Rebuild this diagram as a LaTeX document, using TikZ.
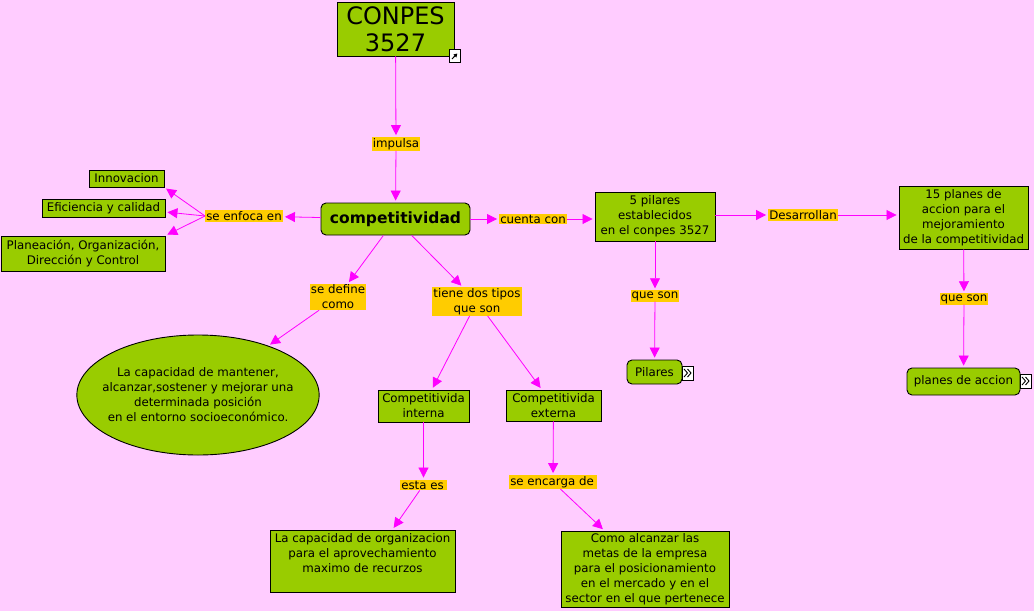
\documentclass[tikz,border=0pt]{standalone}
\usepackage{fontspec}
\setmainfont{DejaVu Sans}
\usetikzlibrary{arrows.meta,shapes.geometric,calc}
\definecolor{bgpink}{RGB}{255,204,255}
\definecolor{cgreen}{RGB}{153,204,0}
\definecolor{lorange}{RGB}{255,204,0}
\definecolor{amag}{RGB}{255,0,255}
\tikzset{
  concept/.style={draw=black, line width=0.9pt, fill=cgreen, align=center, inner sep=1pt, font=\fontsize{11.8}{15}\selectfont},
  rconcept/.style={concept, rounded corners=5pt},
  linkph/.style={fill=lorange, align=center, inner sep=1pt, font=\fontsize{11.8}{15}\selectfont},
  conn/.style={draw=amag, line width=0.8pt, -{Triangle[length=10pt,width=10pt]}, shorten >=2pt},
  iconbox/.style={draw=black, fill=white, line width=0.7pt, minimum width=11pt, minimum height=13pt, inner sep=0pt}
}
\begin{document}
\begin{tikzpicture}[x=1pt,y=-1pt]
\fill[bgpink] (0,0) rectangle (1034,611);
\useasboundingbox (0,0) rectangle (1034,611);

% concepts
\node[concept, minimum width=117pt, minimum height=54pt, font=\fontsize{24}{27}\selectfont] (conpes) at (395.5,29) {CONPES\\3527};
\node[rconcept, minimum width=149pt, minimum height=32pt, font=\bfseries\fontsize{15.5}{18}\selectfont] (comp) at (395.5,219) {competitividad};
\node[concept, minimum width=75pt, minimum height=17pt] (innov) at (126.5,178.5) {Innovacion};
\node[concept, minimum width=123pt, minimum height=18pt] (efic) at (103.5,208) {Eficiencia y calidad};
\node[concept, minimum width=164pt, minimum height=35pt] (plan) at (83,253.5) {Planeación, Organización,\\Dirección y Control};
\node[concept, minimum width=120pt, minimum height=49pt] (pil5) at (655,216.5) {5 pilares\\establecidos\\en el conpes 3527};
\node[concept, minimum width=129pt, minimum height=63pt] (plan15) at (963.5,217.5) {15 planes de\\accion para el\\mejoramiento\\de la competitividad};
\node[rconcept, minimum width=55pt, minimum height=24pt] (pilares) at (654.5,372) {Pilares};
\node[rconcept, minimum width=113pt, minimum height=27pt] (planacc) at (963.5,381.5) {planes de accion};
\node[ellipse, draw=black, line width=0.9pt, fill=cgreen, minimum width=242pt, minimum height=120pt, align=center, inner xsep=-10pt, inner ysep=0pt, font=\fontsize{11.8}{15}\selectfont] (elip) at (198,395) {La capacidad de mantener,\\alcanzar,sostener y mejorar una\\determinada posición\\en el entorno socioeconómico.};
\node[concept, minimum width=91pt, minimum height=32pt] (interna) at (423.5,406) {Competitivida\\interna};
\node[concept, minimum width=95pt, minimum height=31pt] (externa) at (553.5,405.5) {Competitivida\\externa};
\node[concept, minimum width=185pt, minimum height=62pt] (capac) at (362.5,561) {La capacidad de organizacion\\para el aprovechamiento\\maximo de recurzos\\\mbox{}};
\node[concept, minimum width=168pt, minimum height=76pt] (como) at (645,569) {Como alcanzar las\\metas de la empresa\\para el posicionamiento\\en el mercado y en el\\sector en el que pertenece};

% linking phrases
\node[linkph] (impulsa) at (396,144) {impulsa};
\node[linkph] (enfoca) at (244,216) {se enfoca en};
\node[linkph] (cuenta) at (533,219) {cuenta con};
\node[linkph] (desarr) at (803,215) {Desarrollan};
\node[linkph] (queson1) at (655,296) {que son};
\node[linkph] (queson2) at (964,299) {que son};
\node[linkph] (define) at (338,297) {se define\\como};
\node[linkph] (tipos) at (477,301.5) {tiene dos tipos\\que son};
\node[linkph] (estaes) at (423.5,485) {esta es\,};
\node[linkph] (encarga) at (553,482) {se encarga de\,};

% icons
\node[iconbox] (conpesicon) at (454.5,56) {};
\draw[line width=1pt, -{Triangle[length=3.5pt,width=4pt]}] ($(conpesicon.center)+(-2.5,3)$) -- ($(conpesicon.center)+(2.8,-2.5)$);
\node[iconbox, minimum height=14pt] (pilicon) at (687.5,373) {};
\draw[line width=0.9pt] ($(pilicon.center)+(-3.5,-4)$) -- ($(pilicon.center)+(0,0)$) -- ($(pilicon.center)+(-3.5,4)$)
  ($(pilicon.center)+(0,-4)$) -- ($(pilicon.center)+(3.5,0)$) -- ($(pilicon.center)+(0,4)$);
\node[iconbox, minimum height=14pt] (planicon) at (1025.5,381) {};
\draw[line width=0.9pt] ($(planicon.center)+(-3.5,-4)$) -- ($(planicon.center)+(0,0)$) -- ($(planicon.center)+(-3.5,4)$)
  ($(planicon.center)+(0,-4)$) -- ($(planicon.center)+(3.5,0)$) -- ($(planicon.center)+(0,4)$);

% connectors
\draw[conn] (conpes) -- (impulsa);
\draw[conn] (impulsa) -- (comp);
\draw[conn] (comp) -- (enfoca);
\draw[conn] (enfoca.west) -- (innov.south east);
\draw[conn] (enfoca.west) -- ([yshift=-4pt]efic.east);
\draw[conn] (enfoca.west) -- (plan.north east);
\draw[conn] (comp) -- (cuenta);
\draw[conn] (cuenta) -- (cuenta -| pil5.west);
\draw[conn] (pil5.east |- desarr) -- (desarr);
\draw[conn] (desarr) -- (desarr -| plan15.west);
\draw[conn] (pil5) -- (queson1);
\draw[conn] (queson1) -- (pilares);
\draw[conn] (plan15) -- (queson2);
\draw[conn] (queson2) -- (planacc);
\draw[conn] (comp) -- (define);
\draw[conn] (comp) -- (tipos);
\draw[conn] (define) -- (elip);
\draw[conn] (tipos) -- (interna);
\draw[conn] (tipos) -- (externa);
\draw[conn] (interna) -- (estaes);
\draw[conn] (externa) -- (encarga);
\draw[conn] (estaes) -- ([xshift=30pt]capac.north);
\draw[conn] (encarga) -- (como);
\end{tikzpicture}
\end{document}
